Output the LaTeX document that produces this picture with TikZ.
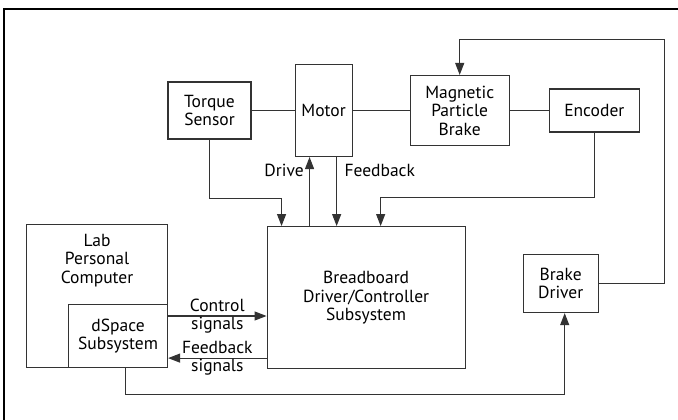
\documentclass[tikz,border=0pt]{standalone}
\usepackage{fontspec}
\setmainfont{PT Sans}
\usepackage{tikz}
\usetikzlibrary{positioning, arrows.meta, calc}

\begin{document}
\begin{tikzpicture}[x=1pt, y=-1pt, font=\fontsize{17.5}{18.5}\selectfont,
      >={Triangle[length=12pt, width=9pt]},
      blk/.style={draw=black!80, line width=1.1pt, align=center, inner sep=2pt},
      wire/.style={draw=black!80, line width=1.1pt},
      frame/.style={draw=black, line width=2pt}]
    \useasboundingbox (0,0) rectangle (678,420);
    \draw[frame] (4,420) -- (4,9) -- (678,9);
    % top row
    \node[blk, minimum width=83pt, minimum height=57pt] (torque) at (209.5,110.5)
      {Torque\\Sensor};
    \node[blk, minimum width=57pt, minimum height=92pt, right=43pt of torque] (motor) {Motor};
    \node[blk, minimum width=99pt, minimum height=70pt, right=57pt of motor] (brake)
      {Magnetic\\Particle\\Brake};
    \node[blk, minimum width=90pt, minimum height=43pt, right=39pt of brake] (encoder) {Encoder};
    \draw[wire] (torque) -- (motor);
    \draw[wire] (motor) -- (brake);
    \draw[wire] (brake) -- (encoder);
    % lower row
    \node[blk, minimum width=198pt, minimum height=142pt, below=69pt of motor.south west,
      anchor=north west, xshift=-28pt] (board) {Breadboard\\Driver/Controller\\Subsystem};
    \node[blk, minimum width=141pt, minimum height=143pt, anchor=north west,
      label={[align=center, anchor=center, yshift=-36.5pt]north:Lab\\Personal\\Computer}]
      (pc) at (26,224) {};
    \node[blk, minimum width=99pt, minimum height=63pt, anchor=south east] (dspace)
      at (pc.south east) {dSpace\\Subsystem};
    \node[blk, minimum width=75pt, minimum height=58pt, right=57pt of board, yshift=14pt]
      (bdriver) {Brake\\Driver};
    \coordinate[above=35pt of brake.north] (btop);
    % connectors
    \draw[wire, ->] (torque.south) -- ++(0,-59pt) -| ([xshift=15pt]board.north west);
    \draw[wire, ->] ([xshift=15pt]motor.south west |- board.north)
      -- node[pos=0.8, left=2pt] {Drive} ([xshift=15pt]motor.south west);
    \draw[wire, ->] ([xshift=-16pt]motor.south east)
      -- node[pos=0.19, right=4pt] {Feedback} ([xshift=-16pt]motor.south east |- board.north);
    \draw[wire, ->] (encoder.south) -- ++(0,-65pt) -| ([xshift=-85pt]board.north east);
    \draw[wire, ->] (bdriver.east) -- ++(66pt,0) |- (btop) -- (brake.north);
    \draw[wire, ->] ([yshift=-12pt]dspace.north east)
      -- node[align=center] {Control\\signals} ([yshift=-12pt]dspace.north east -| board.west);
    \draw[wire, ->] ([yshift=10pt]dspace.south east -| board.west)
      -- node[align=center] {Feedback\\signals} ([yshift=10pt]dspace.south east);
    \draw[wire, ->] ([xshift=7pt]dspace.south) -- ++(0,-26pt) -| ([xshift=4pt]bdriver.south);
  \end{tikzpicture}
\end{document}
